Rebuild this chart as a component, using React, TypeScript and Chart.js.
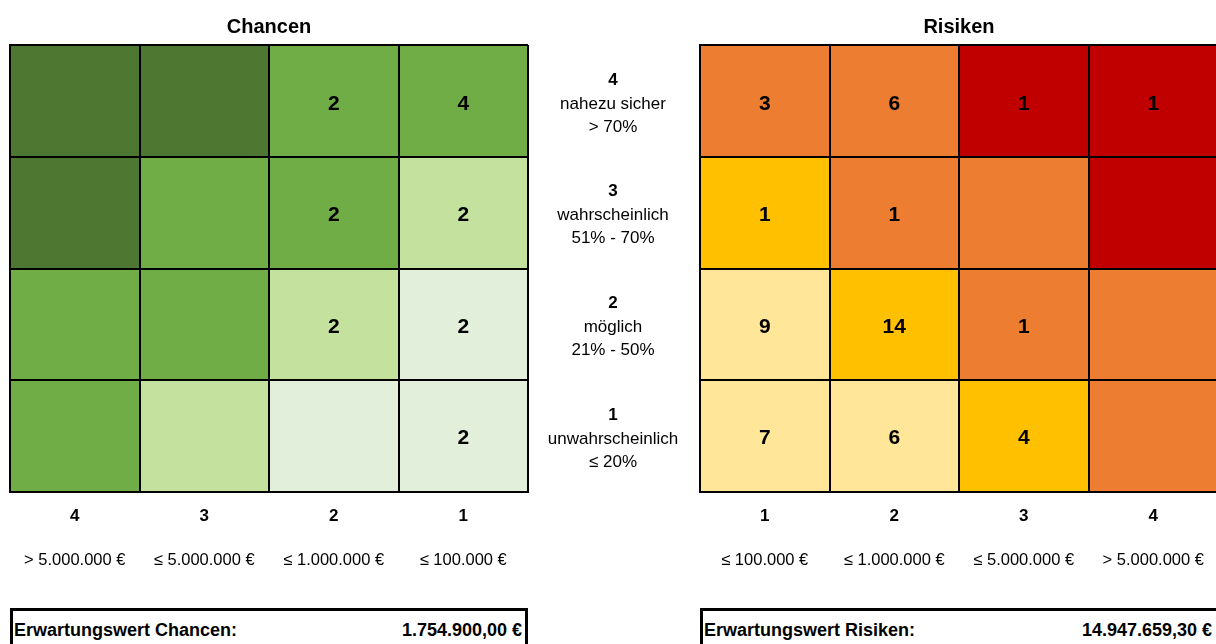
import React, { useEffect, useRef } from 'react';
import { Chart, registerables } from 'chart.js';

Chart.register(...registerables);

const FONT = "'Liberation Sans', Arial, Helvetica, sans-serif";

// Probability levels (bottom row = 1, top row = 4)
const probabilityLevels = ['1', '2', '3', '4'];
const probabilityNames = ['unwahrscheinlich', 'möglich', 'wahrscheinlich', 'nahezu sicher'];
const probabilityRanges = ['≤ 20%', '21% - 50%', '51% - 70%', '> 70%'];

// Chancen: impact columns left to right
const chancenImpact = ['4', '3', '2', '1'];
const chancenAmounts = ['> 5.000.000 €', '≤ 5.000.000 €', '≤ 1.000.000 €', '≤ 100.000 €'];
const chancenCountsP1 = [null, null, null, 2];
const chancenCountsP2 = [null, null, 2, 2];
const chancenCountsP3 = [null, null, 2, 2];
const chancenCountsP4 = [null, null, 2, 4];
// class per cell (0 = lowest, 3 = highest)
const chancenClassP1 = [2, 1, 0, 0];
const chancenClassP2 = [2, 2, 1, 0];
const chancenClassP3 = [3, 2, 2, 1];
const chancenClassP4 = [3, 3, 2, 2];

// Risiken: impact columns left to right
const risikenImpact = ['1', '2', '3', '4'];
const risikenAmounts = ['≤ 100.000 €', '≤ 1.000.000 €', '≤ 5.000.000 €', '> 5.000.000 €'];
const risikenCountsP1 = [7, 6, 4, null];
const risikenCountsP2 = [9, 14, 1, null];
const risikenCountsP3 = [1, 1, null, null];
const risikenCountsP4 = [3, 6, 1, 1];
const risikenClassP1 = [0, 0, 1, 2];
const risikenClassP2 = [0, 1, 2, 2];
const risikenClassP3 = [1, 2, 2, 3];
const risikenClassP4 = [2, 2, 3, 3];

const chancenTotalLabel = 'Erwartungswert Chancen:';
const chancenTotalValue = '1.754.900,00 €';
const risikenTotalLabel = 'Erwartungswert Risiken:';
const risikenTotalValue = '14.947.659,30 €';

const greenPalette = ['#E2EFDA', '#C4E29E', '#70AD47', '#4E7831'];
const riskPalette = ['#FFE699', '#FFC000', '#ED7D31', '#C00000'];

type MatrixProps = {
  title: string;
  impact: string[];
  amounts: string[];
  counts: (number | null)[][];
  classes: number[][];
  palette: string[];
  canvasLeft: number;
  canvasWidth: number;
  padLeft: number;
  padRight: number;
  withCenterLabels: boolean;
};

const CANVAS_H = 572;

function MatrixChart(props: MatrixProps) {
  const ref = useRef<HTMLCanvasElement>(null);
  useEffect(() => {
    const { title, impact, amounts, counts, classes, palette, padLeft, padRight, withCenterLabels } = props;
    const datasets = probabilityLevels.map((lvl, i) => ({
      label: lvl,
      data: impact.map(() => 1),
      backgroundColor: classes[i].map((c) => palette[c]),
      borderWidth: 0,
      barPercentage: 1,
      categoryPercentage: 1,
    }));

    const cellValuePlugin = {
      id: 'cellValues',
      afterDraw(chart: any) {
        const ctx = chart.ctx;
        ctx.save();
        ctx.fillStyle = '#000';
        ctx.font = `bold 21px ${FONT}`;
        ctx.textAlign = 'center';
        ctx.textBaseline = 'middle';
        counts.forEach((row, i) => {
          const meta = chart.getDatasetMeta(i);
          row.forEach((v, j) => {
            if (v === null) return;
            const el = meta.data[j];
            const p = el.getCenterPoint();
            ctx.fillText(String(v), p.x, p.y + 3);
          });
        });
        ctx.restore();
      },
    };

    const centerLabelPlugin = {
      id: 'centerLabels',
      afterDraw(chart: any) {
        if (!withCenterLabels) return;
        const ctx = chart.ctx;
        const y = chart.scales.y;
        const cx = chart.chartArea.left - 87;
        ctx.save();
        ctx.fillStyle = '#000';
        ctx.textAlign = 'center';
        ctx.textBaseline = 'middle';
        probabilityLevels.forEach((lvl, i) => {
          const cy = y.getPixelForValue(i + 0.5);
          ctx.font = `bold 17px ${FONT}`;
          ctx.fillText(lvl, cx, cy - 21);
          ctx.font = `17px ${FONT}`;
          ctx.fillText(probabilityNames[i], cx, cy + 3);
          ctx.fillText(probabilityRanges[i], cx, cy + 26);
        });
        ctx.restore();
      },
    };

    const chart = new Chart(ref.current as HTMLCanvasElement, {
      type: 'bar',
      data: { labels: impact, datasets },
      options: {
        animation: false,
        responsive: false,
        events: [],
        layout: { padding: { left: padLeft, right: padRight, top: 0, bottom: 0 } },
        plugins: {
          legend: { display: false },
          tooltip: { enabled: false },
          title: {
            display: true,
            text: title,
            color: '#000',
            font: { family: FONT, size: 20, weight: 'bold' },
            padding: { top: 15, bottom: 6 },
          },
        },
        scales: {
          x: {
            type: 'category',
            position: 'bottom',
            stacked: true,
            weight: 1,
            offset: true,
            grid: { offset: true, color: '#000', lineWidth: 2, drawTicks: false, z: 1 },
            border: { display: true, color: '#000', width: 2, z: 1 },
            ticks: {
              color: '#000',
              font: { family: FONT, size: 17, weight: 'bold' },
              padding: 14,
              maxRotation: 0,
              autoSkip: false,
            },
            afterFit: (s: any) => {
              s.height = 57;
            },
          },
          x2: {
            type: 'category',
            position: 'bottom',
            weight: 2,
            labels: amounts,
            offset: true,
            grid: { display: false, drawTicks: false },
            border: { display: false },
            ticks: {
              color: '#000',
              font: { family: FONT, size: 16.5 },
              padding: 2,
              maxRotation: 0,
              autoSkip: false,
            },
            afterFit: (s: any) => {
              s.height = 23;
            },
          },
          y: {
            type: 'linear',
            position: 'left',
            stacked: true,
            min: 0,
            max: 4,
            ticks: { display: false, stepSize: 1 },
            grid: { color: '#000', lineWidth: 2, drawTicks: false, z: 1 },
            border: { display: true, color: '#000', width: 2, z: 1 },
            afterFit: (s: any) => {
              s.width = 0;
            },
          },
        } as any,
      },
      plugins: [cellValuePlugin, centerLabelPlugin],
    } as any);
    return () => chart.destroy();
  }, []);
  return (
    <canvas
      ref={ref}
      width={props.canvasWidth}
      height={CANVAS_H}
      style={{ position: 'absolute', left: props.canvasLeft, top: 0, width: props.canvasWidth, height: CANVAS_H }}
    />
  );
}

function TotalBox({ left, width, label, value, valueRight }: { left: number; width: number; label: string; value: string; valueRight: number }) {
  return (
    <div
      style={{
        position: 'absolute',
        left,
        top: 608,
        width,
        height: 60,
        boxSizing: 'border-box',
        border: '3px solid #000',
        fontFamily: FONT,
        fontWeight: 'bold',
        fontSize: 18,
        lineHeight: '20px',
        color: '#000',
      }}
    >
      <span style={{ position: 'absolute', left: 1, top: 9, whiteSpace: 'nowrap' }}>{label}</span>
      <span style={{ position: 'absolute', right: valueRight, top: 9, whiteSpace: 'nowrap' }}>{value}</span>
    </div>
  );
}

export default function App() {
  return (
    <div
      style={{
        position: 'fixed',
        left: 0,
        top: 0,
        width: 1216,
        height: 644,
        overflow: 'hidden',
        background: '#fff',
      }}
    >
      <MatrixChart
        title="Chancen"
        impact={chancenImpact}
        amounts={chancenAmounts}
        counts={[chancenCountsP1, chancenCountsP2, chancenCountsP3, chancenCountsP4]}
        classes={[chancenClassP1, chancenClassP2, chancenClassP3, chancenClassP4]}
        palette={greenPalette}
        canvasLeft={0}
        canvasWidth={540}
        padLeft={10}
        padRight={12}
        withCenterLabels={false}
      />
      <MatrixChart
        title="Risiken"
        impact={risikenImpact}
        amounts={risikenAmounts}
        counts={[risikenCountsP1, risikenCountsP2, risikenCountsP3, risikenCountsP4]}
        classes={[risikenClassP1, risikenClassP2, risikenClassP3, risikenClassP4]}
        palette={riskPalette}
        canvasLeft={530}
        canvasWidth={690}
        padLeft={170}
        padRight={2}
        withCenterLabels={true}
      />
      <TotalBox left={10} width={518} label={chancenTotalLabel} value={chancenTotalValue} valueRight={3} />
      <TotalBox left={700} width={530} label={risikenTotalLabel} value={risikenTotalValue} valueRight={15} />
    </div>
  );
}
